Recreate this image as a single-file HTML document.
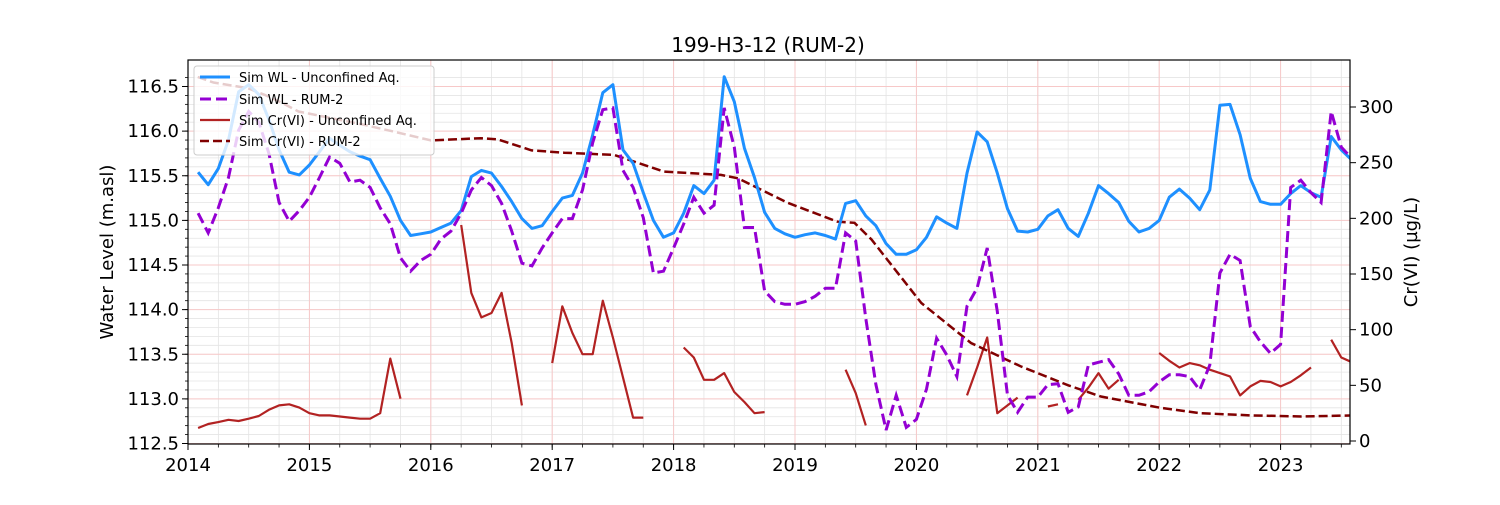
<!DOCTYPE html>
<html><head><meta charset="utf-8">
<style>
html,body{margin:0;padding:0;background:#fff;}
body{width:1500px;height:500px;overflow:hidden;font-family:"Liberation Sans","DejaVu Sans",sans-serif;}
svg text{font-family:"DejaVu Sans","Liberation Sans",sans-serif;}
</style></head>
<body>
<svg id="chart" width="1500" height="500" xmlns="http://www.w3.org/2000/svg">
<defs><clipPath id="plotclip"><rect x="188" y="60" width="1162" height="384"/></clipPath></defs>
<text x="768" y="52" font-size="20" text-anchor="middle">199-H3-12 (RUM-2)</text>
<text transform="translate(113,252) rotate(-90)" font-size="18" text-anchor="middle">Water Level (m.asl)</text>
<text transform="translate(1417,252) rotate(-90)" font-size="18" text-anchor="middle">Cr(VI) (µg/L)</text>
<g id="grid"></g>
<g id="series" clip-path="url(#plotclip)"></g>
<rect x="188" y="60" width="1162" height="384" fill="none" stroke="#000" stroke-width="1.2"/>
<g id="axes"></g>
<g id="legend">
<rect x="194" y="66" width="240" height="89" rx="3" fill="#fff" fill-opacity="0.8" stroke="#ccc"/>
<line x1="200" y1="77" x2="230" y2="77" stroke="#1e90ff" stroke-width="3"/>
<text x="239" y="82" font-size="13">Sim WL - Unconfined Aq.</text>
<line x1="200" y1="99" x2="230" y2="99" stroke="#9400d3" stroke-width="3" stroke-dasharray="11,5"/>
<text x="239" y="104" font-size="13">Sim WL - RUM-2</text>
<line x1="200" y1="120" x2="230" y2="120" stroke="#b22222" stroke-width="2.2"/>
<text x="239" y="125" font-size="13">Sim Cr(VI) - Unconfined Aq.</text>
<line x1="200" y1="141" x2="230" y2="141" stroke="#800000" stroke-width="2.5" stroke-dasharray="9,4"/>
<text x="239" y="146" font-size="13">Sim Cr(VI) - RUM-2</text>
</g>
</svg>
<script>
const yearTicks = [2014,2015,2016,2017,2018,2019,2020,2021,2022,2023];
const leftTicks = [112.5,113.0,113.5,114.0,114.5,115.0,115.5,116.0,116.5];
const rightTicks = [0,50,100,150,200,250,300];
const startDate = 2014 + 1/12;
const wlUnconfined = [115.54,115.40,115.58,115.90,116.44,116.52,116.41,116.13,115.79,115.54,115.51,115.62,
115.77,115.92,115.84,115.77,115.72,115.68,115.47,115.27,115.00,114.83,114.85,114.87,
114.92,114.97,115.11,115.49,115.56,115.53,115.38,115.21,115.02,114.91,114.94,115.10,
115.25,115.28,115.53,115.96,116.43,116.52,115.79,115.64,115.31,115.00,114.81,114.86,
115.08,115.39,115.30,115.45,116.61,116.33,115.81,115.48,115.09,114.91,114.85,114.81,
114.84,114.86,114.83,114.79,115.19,115.22,115.05,114.94,114.74,114.62,114.62,114.67,
114.81,115.04,114.97,114.91,115.53,115.99,115.88,115.53,115.13,114.88,114.87,114.90,
115.05,115.12,114.91,114.82,115.08,115.39,115.30,115.20,114.99,114.87,114.91,115.00,
115.26,115.35,115.25,115.12,115.34,116.29,116.30,115.96,115.47,115.21,115.18,115.18,
115.30,115.39,115.31,115.26,115.94,115.79,115.68];
const wlRum2 = [115.08,114.86,115.14,115.48,116.01,116.22,116.10,115.75,115.20,114.99,115.11,115.26,
115.48,115.71,115.64,115.43,115.45,115.37,115.14,114.96,114.58,114.43,114.55,114.62,
114.79,114.88,115.08,115.34,115.48,115.39,115.19,114.88,114.52,114.49,114.69,114.86,
115.02,115.02,115.34,115.87,116.24,116.26,115.56,115.37,115.03,114.41,114.43,114.69,
114.96,115.26,115.08,115.17,116.26,115.82,114.92,114.92,114.21,114.09,114.06,114.06,
114.09,114.15,114.24,114.24,114.86,114.77,113.90,113.16,112.65,113.04,112.68,112.77,
113.11,113.68,113.49,113.25,114.04,114.24,114.69,113.98,113.04,112.85,113.02,113.02,
113.16,113.17,112.85,112.91,113.38,113.41,113.44,113.28,113.04,113.04,113.08,113.19,
113.27,113.27,113.25,113.10,113.38,114.41,114.62,114.55,113.81,113.64,113.51,113.61,
115.37,115.45,115.31,115.20,116.22,115.82,115.70];
const crUnconfined = [11.7,15.3,17,19,18,20,22.5,28,32,33,30,25,
23,23,22,21,20,20,25,74,38,null,null,null,
null,null,194,133,111,115,133,88,32,null,null,70,
121,97,78,78,126,93,57,21,21,null,null,null,
84,75,55,55,61,44,35,25,26,null,null,null,
null,null,null,null,64,43,14,null,null,null,null,null,
null,null,null,null,41,66,93,25,32,39,null,null,
31,33,null,37,48,61,47,55,null,null,null,79,
72,66,70,68,64,61,58,41,49,54,53,49,
53,59,66,null,91,75,71];
const crRum2Dates = [2014.08,2014.21,2014.49,2014.63,2014.77,2014.91,2015.18,2015.45,2015.73,2016.0,2016.41,2016.55,2016.83,2017.10,2017.51,2017.92,2018.39,2018.53,2018.94,2019.35,2019.49,2019.63,2020.04,2020.45,2020.86,2021.25,2021.52,2022.0,2022.34,2022.76,2023.17,2023.6];
const crRum2 = [327,322,317,311,304,296,290,284,277,270,272,271,261,259,257,242,239,236,214,197,196,181,124,88,67,50,40,30,25,23,22,23];

const NS='http://www.w3.org/2000/svg';
const X0=188, X1=1350, Y0=60, Y1=444;
const xOf = d => 188 + (d-2014)*121.4;
const yL = v => 86.5 + (116.5-v)*89.25;
const yR = v => 441 - v*1.1133;
function mk(tag, attrs, parent){const e=document.createElementNS(NS,tag);for(const k in attrs)e.setAttribute(k,attrs[k]);parent.appendChild(e);return e;}
const grid=document.getElementById('grid'), axes=document.getElementById('axes'), series=document.getElementById('series');

// minor grid horizontal (every 0.1)
for(let i=0;i<=42;i++){const v=112.4+i*0.1;const y=yL(v);if(y<Y0||y>Y1)continue;
 const l=mk('line',{x1:X0,x2:X1,y1:y,y2:y,stroke:'#e4e4e4','stroke-width':0.8},grid);
 
 
 const t=mk('line',{x1:X0-3,x2:X0,y1:y,y2:y,stroke:'#000','stroke-width':0.8},axes);
 
 }
// minor grid vertical (quarters)
for(let d=2014;d<2023.7;d+=0.25){const x=xOf(d);if(x>X1)continue;
 const l=mk('line',{x1:x,x2:x,y1:Y0,y2:Y1,stroke:'#e4e4e4','stroke-width':0.8},grid);
 
 
 const t=mk('line',{x1:x,x2:x,y1:Y1,y2:Y1+3.5,stroke:'#000','stroke-width':0.8},axes);
 
 }
leftTicks.forEach(v=>{const y=yL(v);
 const l=mk('line',{x1:X0,x2:X1,y1:y,y2:y,stroke:'#f7c8c8','stroke-width':1},grid);
 
 
 const t=mk('line',{x1:X0-6,x2:X0,y1:y,y2:y,stroke:'#000','stroke-width':1},axes);
 
 
 const tx=mk('text',{x:X0-9,y:y+6,'font-size':18,'text-anchor':'end'},axes);
 tx.textContent=v.toFixed(1);
 
 });
yearTicks.forEach(d=>{const x=xOf(d);
 const l=mk('line',{x1:x,x2:x,y1:Y0,y2:Y1,stroke:'#f7c8c8','stroke-width':1},grid);
 
 
 const t=mk('line',{x1:x,x2:x,y1:Y1,y2:Y1+6,stroke:'#000','stroke-width':1},axes);
 
 
 const tx=mk('text',{x:x,y:471,'font-size':18,'text-anchor':'middle'},axes);
 tx.textContent=d;
 
 });
rightTicks.forEach(v=>{const y=yR(v);
 const t=mk('line',{x1:X1,x2:X1+6,y1:y,y2:y,stroke:'#000','stroke-width':1},axes);
 
 
 const tx=mk('text',{x:X1+9,y:y+6,'font-size':18,'text-anchor':'start'},axes);
 tx.textContent=v;
 
 });

function pathFrom(vals, dateFn, yFn){let d='',pen=false;
 vals.forEach((v,i)=>{if(v===null){pen=false;return;}
  d+=(pen?'L':'M')+xOf(dateFn(i)).toFixed(1)+','+yFn(v).toFixed(1)+' ';pen=true;});return d;}
const md = i => startDate + i/12;

const p1=mk('path',{d:pathFrom(crUnconfined,md,yR),fill:'none',stroke:'#b22222','stroke-width':2.2,'stroke-linejoin':'round'},series);


const p2=mk('path',{d:pathFrom(crRum2,i=>crRum2Dates[i],yR),fill:'none',stroke:'#800000','stroke-width':2.5,'stroke-dasharray':'9,4'},series);


const p3=mk('path',{d:pathFrom(wlUnconfined,md,yL),fill:'none',stroke:'#1e90ff','stroke-width':3,'stroke-linejoin':'round'},series);


const p4=mk('path',{d:pathFrom(wlRum2,md,yL),fill:'none',stroke:'#9400d3','stroke-width':3,'stroke-dasharray':'11,5'},series);


</script>
</body></html>
